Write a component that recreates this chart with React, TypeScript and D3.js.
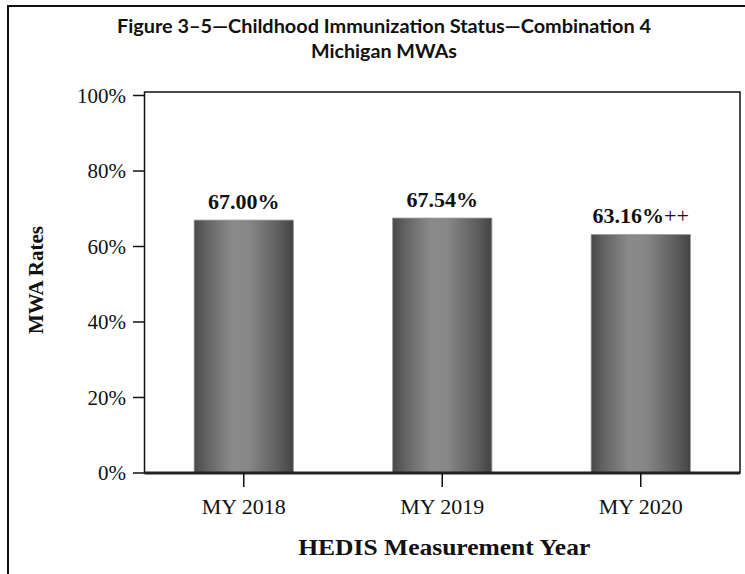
import React from "react";
import * as d3 from "d3";

const years = ["MY 2018", "MY 2019", "MY 2020"];
const rates = [67.0, 67.54, 63.16];
const rateNotes = ["", "", "++"];
const yTicks = [0, 20, 40, 60, 80, 100];
const titleLines = [
  "Figure 3\u20135\u2014Childhood Immunization Status\u2014Combination 4",
  "Michigan MWAs",
];
const titleWidths = [534, 146];

const W = 745;
const H = 574;
const plot = { left: 144.5, right: 740, top: 92, bottom: 473 };
const serif = "'Liberation Serif', 'Times New Roman', serif";
const sans = "Lato, 'Open Sans', sans-serif";

export default function App() {
  const x = d3
    .scaleBand<string>()
    .domain(years)
    .range([plot.left, plot.right])
    .paddingInner(0.5)
    .paddingOuter(0.25);
  const y = d3.scaleLinear().domain([0, 100]).range([plot.bottom, 95.5]);
  const cx = (plot.left + plot.right) / 2;

  return (
    <svg
      width={W}
      height={H}
      style={{ position: "fixed", left: 0, top: 0, background: "#fff" }}
    >
      <defs>
        <linearGradient id="barFill" x1="0" x2="1" y1="0" y2="0">
          <stop offset="0%" stopColor="#484848" />
          <stop offset="12%" stopColor="#626262" />
          <stop offset="38%" stopColor="#8a8a8a" />
          <stop offset="55%" stopColor="#878787" />
          <stop offset="85%" stopColor="#5e5e5e" />
          <stop offset="100%" stopColor="#434343" />
        </linearGradient>
      </defs>

      {/* outer frame */}
      <path d={`M8,${H} V6 H${W}`} fill="none" stroke="#111" strokeWidth={2} />

      {/* title */}
      {titleLines.map((t, i) => (
        <text
          key={i}
          x={384}
          y={33 + i * 25}
          textAnchor="middle"
          fontFamily={sans}
          fontWeight={700}
          fontSize={19}
          textLength={titleWidths[i]}
          lengthAdjust="spacingAndGlyphs"
          fill="#111"
        >
          {t}
        </text>
      ))}

      {/* plot frame */}
      <rect
        x={plot.left}
        y={plot.top}
        width={plot.right - plot.left}
        height={plot.bottom - plot.top}
        fill="none"
        stroke="#111"
        strokeWidth={1.5}
      />

      {/* y axis ticks and labels */}
      {yTicks.map((t) => (
        <g key={t}>
          <line x1={133} x2={plot.left} y1={y(t)} y2={y(t)} stroke="#111" strokeWidth={1.5} />
          <text
            x={126}
            y={y(t)}
            dy="0.35em"
            textAnchor="end"
            fontFamily={serif}
            fontSize={21}
            fill="#111"
          >
            {t}%
          </text>
        </g>
      ))}

      {/* bars */}
      {years.map((c, i) => (
        <g key={c}>
          <rect
            x={x(c)}
            y={y(rates[i])}
            width={x.bandwidth()}
            height={y(0) - y(rates[i])}
            fill="url(#barFill)"
            stroke="#9a9a9a"
            strokeWidth={0.8}
          />
          <text
            x={x(c)! + x.bandwidth() / 2}
            y={y(rates[i]) - 11.5}
            textAnchor="middle"
            fontFamily={serif}
            fontSize={22}
            fill="#111"
          >
            <tspan fontWeight={700}>{rates[i].toFixed(2)}%</tspan>
            {rateNotes[i] && <tspan>{rateNotes[i]}</tspan>}
          </text>
        </g>
      ))}

      {/* baseline */}
      <line x1={plot.left} x2={plot.right} y1={plot.bottom} y2={plot.bottom} stroke="#222" strokeWidth={3} />

      {/* x axis ticks and labels */}
      {years.map((c) => {
        const mx = x(c)! + x.bandwidth() / 2;
        return (
          <g key={c}>
            <line x1={mx} x2={mx} y1={plot.bottom} y2={487} stroke="#111" strokeWidth={1.5} />
            <text x={mx} y={514} textAnchor="middle" fontFamily={serif} fontSize={22} fill="#111">
              {c}
            </text>
          </g>
        );
      })}

      {/* axis titles */}
      <text
        x={cx + 2}
        y={555}
        textAnchor="middle"
        fontFamily={serif}
        fontWeight={700}
        fontSize={24}
        textLength={292}
        lengthAdjust="spacingAndGlyphs"
        fill="#111"
      >
        HEDIS Measurement Year
      </text>
      <text
        transform={`translate(43,280) rotate(-90)`}
        textAnchor="middle"
        fontFamily={serif}
        fontWeight={700}
        fontSize={21}
        fill="#111"
      >
        MWA Rates
      </text>
    </svg>
  );
}
